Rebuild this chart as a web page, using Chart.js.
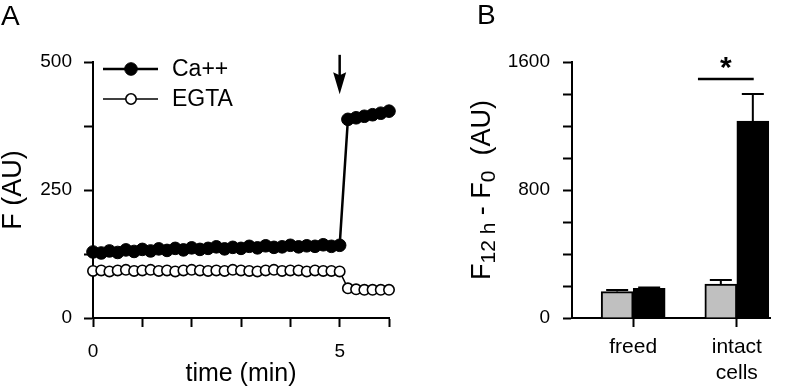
<!DOCTYPE html>
<html><head><meta charset="utf-8">
<script src="https://cdn.jsdelivr.net/npm/chart.js@4.4.1/dist/chart.umd.min.js"></script>
<style>
html,body{margin:0;padding:0;background:#fff;}
#wrap{position:relative;width:800px;height:389px;overflow:hidden;background:#fff;}
#cA{position:absolute;left:0;top:0;}
#cB{position:absolute;left:430px;top:0;}
</style></head><body>
<div id="wrap">
<canvas id="cA" width="430" height="389"></canvas>
<canvas id="cB" width="370" height="389"></canvas>
</div>
<script>
// ---------- Panel A data ----------
const timeMin = [0,0.167,0.333,0.5,0.667,0.833,1,1.167,1.333,1.5,1.667,1.833,2,2.167,2.333,2.5,2.667,2.833,3,3.167,3.333,3.5,3.667,3.833,4,4.167,4.333,4.5,4.667,4.833,5,5.167,5.333,5.5,5.667,5.833,6];
const caValues = [129,127,131,128,133,130,134,131,135,132,136,133,137,134,136,139,135,138,136,140,137,141,138,139,142,139,141,140,143,140,142,388,391,394,397,400,404];
const egtaValues = [92,93,91,93,94,92,93,94,92,93,91,93,94,93,92,93,92,94,93,92,91,93,94,92,93,93,91,93,92,92,91,58,56,55,55,55,55];
const seriesNames = ['Ca++','EGTA'];
const xTickValuesA = [0,5];
const yTickValuesA = [0,250,500];

// ---------- Panel B data ----------
const categories = ['freed', ['intact','cells']];
const catPositions = [1,2];
const egtaBars = [165,212];
const egtaErr = [10,25];
const caBars = [185,1230];
const caErr = [5,170];
const yTickValuesB = [0,800,1600];

const FONT = "'Liberation Sans', Arial, Helvetica, sans-serif";
Chart.defaults.font.family = FONT;
Chart.defaults.color = '#000';

function axisStyle(){
  return {
    border:{display:true,color:'#000',width:2},
    grid:{drawOnChartArea:false,drawTicks:true,tickLength:9,tickWidth:2,tickColor:'#000',offset:false}
  };
}

// ---------- Panel A ----------
const panelAPlugin = {
  id:'panelA',
  afterDraw(chart){
    const ctx = chart.ctx, xs = chart.scales.x, ys = chart.scales.y;
    ctx.save();
    ctx.fillStyle = '#000';
    ctx.font = '28px ' + FONT;
    ctx.textBaseline = 'alphabetic';
    ctx.textAlign = 'left';
    ctx.fillText('A', 1, 25);
    // arrow at 5 min
    const ax = xs.getPixelForValue(5);
    ctx.strokeStyle = '#000';
    ctx.lineWidth = 2.5;
    ctx.beginPath();
    ctx.moveTo(ax, ys.getPixelForValue(514));
    ctx.lineTo(ax, ys.getPixelForValue(470));
    ctx.stroke();
    ctx.beginPath();
    ctx.moveTo(ax-6.5, ys.getPixelForValue(480));
    ctx.lineTo(ax, ys.getPixelForValue(474));
    ctx.lineTo(ax+6.5, ys.getPixelForValue(480));
    ctx.lineTo(ax, ys.getPixelForValue(437));
    ctx.closePath();
    ctx.fill();
    // legend
    const ds = chart.data.datasets;
    const rows = [{d:ds[0], y:69},{d:ds[1], y:99}];
    rows.forEach(r=>{
      ctx.strokeStyle = '#000';
      ctx.lineWidth = r.d.borderWidth;
      ctx.beginPath(); ctx.moveTo(103, r.y); ctx.lineTo(158, r.y); ctx.stroke();
      ctx.beginPath();
      ctx.arc(131, r.y, r.d.pointRadius, 0, Math.PI*2);
      ctx.fillStyle = r.d.pointBackgroundColor; ctx.fill();
      ctx.lineWidth = r.d.pointBorderWidth; ctx.strokeStyle = '#000'; ctx.stroke();
      ctx.fillStyle = '#000';
      ctx.font = '23px ' + FONT;
      ctx.textBaseline = 'middle';
      ctx.fillText(r.d.label, 172, r.y + 1);
    });
    ctx.restore();
  }
};

new Chart(document.getElementById('cA'), {
  type:'line',
  data:{
    datasets:[
      {label:seriesNames[0], data:timeMin.map((t,i)=>({x:t,y:caValues[i]})),
       borderColor:'#000', borderWidth:2.5, pointRadius:6.3, pointBorderWidth:1,
       pointBackgroundColor:'#000', pointBorderColor:'#000', clip:false, tension:0},
      {label:seriesNames[1], data:timeMin.map((t,i)=>({x:t,y:egtaValues[i]})),
       borderColor:'#000', borderWidth:1.5, pointRadius:5.2, pointBorderWidth:1.6,
       pointBackgroundColor:'#fff', pointBorderColor:'#000', clip:false, tension:0}
    ]
  },
  options:{
    responsive:false, animation:false, devicePixelRatio:1,
    layout:{padding:{top:62,right:41,left:0,bottom:0}},
    plugins:{legend:{display:false},tooltip:{enabled:false},title:{display:false}},
    scales:{
      x:Object.assign(axisStyle(),{
        type:'linear', min:0, max:6,
        ticks:{stepSize:1, autoSkip:false, maxRotation:0, padding:13, color:'#000',
          font:{size:19}, callback:v=> xTickValuesA.includes(v) ? String(v) : ''},
        title:{display:true, text:'time (min)', color:'#000', font:{size:25}, padding:{top:0,bottom:0}},
        afterFit:s=>{s.height = 71;}
      }),
      y:Object.assign(axisStyle(),{
        type:'linear', min:0, max:500,
        ticks:{stepSize:125, autoSkip:false, padding:12, color:'#000',
          font:{size:19}, callback:v=> yTickValuesA.includes(v) ? String(v) : ''},
        title:{display:true, text:'F (AU)', color:'#000', font:{size:27, lineHeight:1.0}, padding:{top:0,bottom:0}},
        afterFit:s=>{s.width = 93;}
      })
    }
  },
  plugins:[panelAPlugin]
});

// ---------- Panel B ----------
const errs = [egtaErr, caErr];
const panelBPlugin = {
  id:'panelB',
  afterDatasetsDraw(chart){
    const ctx = chart.ctx, ys = chart.scales.y;
    ctx.save();
    ctx.strokeStyle = '#000';
    ctx.lineWidth = 2;
    chart.data.datasets.forEach((d,di)=>{
      const meta = chart.getDatasetMeta(di);
      meta.data.forEach((el,i)=>{
        const top = ys.getPixelForValue(d.data[i].y + errs[di][i]);
        ctx.beginPath();
        ctx.moveTo(el.x, el.y); ctx.lineTo(el.x, top);
        ctx.moveTo(el.x-11, top); ctx.lineTo(el.x+11, top);
        ctx.stroke();
      });
    });
    ctx.restore();
  },
  afterDraw(chart){
    const ctx = chart.ctx, xs = chart.scales.x, ys = chart.scales.y;
    ctx.save();
    ctx.fillStyle = '#000';
    ctx.font = '28px ' + FONT;
    ctx.textBaseline = 'alphabetic';
    ctx.fillText('B', 47, 24);
    // significance line + star
    const ly = ys.getPixelForValue(1494);
    const x1 = xs.getPixelForValue(1.625), x2 = xs.getPixelForValue(2.163);
    ctx.strokeStyle = '#000'; ctx.lineWidth = 2.5;
    ctx.beginPath(); ctx.moveTo(x1, ly); ctx.lineTo(x2, ly); ctx.stroke();
    ctx.font = 'bold 30px ' + FONT;
    ctx.textAlign = 'center';
    ctx.fillText('*', (x1+x2)/2, ly - 2);
    // y title with subscripts
    const parts = [
      {t:'F', s:27, d:0},
      {t:'12 h', s:21, d:5},
      {t:' - F', s:27, d:0},
      {t:'0', s:21, d:5},
      {t:'  (AU)', s:27, d:0}
    ];
    let total = 0;
    parts.forEach(p=>{ctx.font = p.s + 'px ' + FONT; p.w = ctx.measureText(p.t).width; total += p.w;});
    ctx.translate(60, 190);
    ctx.rotate(-Math.PI/2);
    ctx.textAlign = 'left';
    ctx.textBaseline = 'alphabetic';
    let x = -total/2;
    parts.forEach(p=>{ctx.font = p.s + 'px ' + FONT; ctx.fillText(p.t, x, p.d); x += p.w;});
    ctx.restore();
  }
};

new Chart(document.getElementById('cB'), {
  type:'bar',
  data:{
    datasets:[
      {label:seriesNames[1], data:catPositions.map((x,i)=>({x:x,y:egtaBars[i]})),
       backgroundColor:'#c0c0c0', borderColor:'#000', borderWidth:2, barThickness:32},
      {label:seriesNames[0], data:catPositions.map((x,i)=>({x:x,y:caBars[i]})),
       backgroundColor:'#000', borderColor:'#000', borderWidth:2, barThickness:32}
    ]
  },
  options:{
    responsive:false, animation:false, devicePixelRatio:1,
    layout:{padding:{top:62,right:30,left:0,bottom:0}},
    plugins:{legend:{display:false},tooltip:{enabled:false},title:{display:false}},
    scales:{
      x:Object.assign(axisStyle(),{
        type:'linear', min:0.41, max:2.32, offset:false,
        afterBuildTicks:s=>{ s.ticks = catPositions.map(v=>({value:v})); },
        ticks:{autoSkip:false, maxRotation:0, padding:8, color:'#000',
          font:{size:21}, callback:v=>{ const i = catPositions.indexOf(v); return i>=0 ? categories[i] : ''; }},
        afterFit:s=>{s.height = 71;}
      }),
      y:Object.assign(axisStyle(),{
        type:'linear', min:0, max:1600,
        ticks:{stepSize:200, autoSkip:false, padding:13, color:'#000',
          font:{size:19}, callback:v=> yTickValuesB.includes(v) ? String(v) : ''},
        afterFit:s=>{s.width = 142;}
      })
    }
  },
  plugins:[panelBPlugin]
});
</script>
</body></html>
